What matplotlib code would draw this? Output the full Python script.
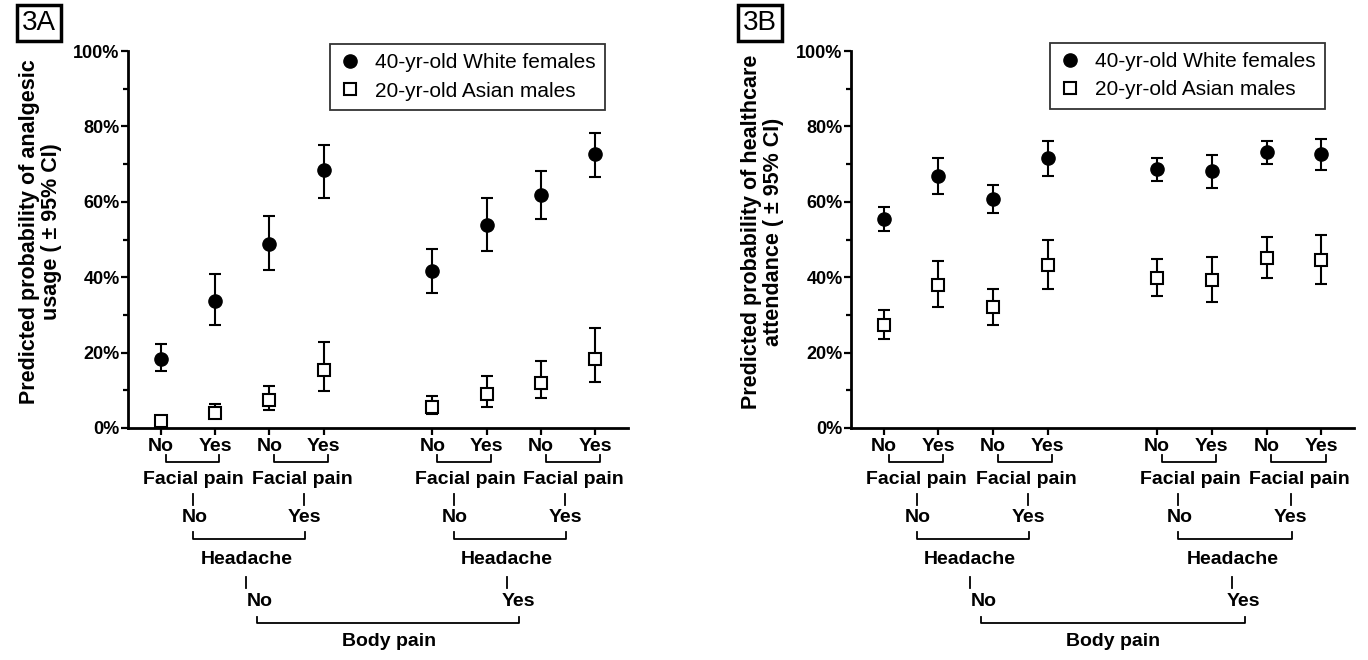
import matplotlib.pyplot as plt
import matplotlib as mpl
from matplotlib.lines import Line2D

mpl.rcParams['font.family'] = ['Liberation Sans', 'DejaVu Sans']

# ---------- data ----------
xpos = [0, 1, 2, 3, 5, 6, 7, 8]
tick_labels = ['No', 'Yes', 'No', 'Yes', 'No', 'Yes', 'No', 'Yes']
series_names = ['40-yr-old White females', '20-yr-old Asian males']

# 3A: analgesic usage (%)
a_white = [18.3, 33.7, 48.9, 68.4, 41.6, 53.9, 61.9, 72.8]
a_white_lo = [15.1, 27.3, 41.9, 60.9, 35.9, 46.9, 55.4, 66.7]
a_white_hi = [22.2, 40.8, 56.2, 75.1, 47.6, 61.0, 68.2, 78.2]
a_asian = [1.9, 4.1, 7.5, 15.3, 5.7, 8.9, 11.9, 18.3]
a_asian_lo = [1.2, 2.8, 4.8, 9.9, 3.6, 5.6, 7.9, 12.1]
a_asian_hi = [2.6, 6.4, 11.2, 22.8, 8.4, 13.7, 17.8, 26.6]

# 3B: healthcare attendance (%)
b_white = [55.4, 66.9, 60.7, 71.5, 68.6, 68.2, 73.1, 72.8]
b_white_lo = [52.2, 62.1, 57.0, 66.8, 65.6, 63.6, 70.0, 68.4]
b_white_hi = [58.7, 71.6, 64.5, 76.0, 71.7, 72.5, 76.2, 76.7]
b_asian = [27.4, 37.9, 32.0, 43.3, 39.8, 39.3, 45.2, 44.6]
b_asian_lo = [23.6, 32.2, 27.4, 36.9, 35.1, 33.5, 39.8, 38.3]
b_asian_hi = [31.4, 44.2, 36.8, 50.0, 44.8, 45.4, 50.7, 51.1]

W, H = 1368, 660
fig = plt.figure(figsize=(W / 100, H / 100), dpi=100)


def yf(p):
    # pixel row (from top of image) -> axes fraction
    return (428 - p) / 377


def err(v, lo, hi):
    return [[m - l for m, l in zip(v, lo)], [h - m for m, h in zip(v, hi)]]


def tree(ax):
    tr = ax.get_xaxis_transform()
    kw = dict(transform=tr, clip_on=False, color='black', lw=1.3)
    tk = dict(transform=tr, ha='center', va='center', fontsize=14, fontweight='bold')

    def bracket(x1, x2, ytop, ybot):
        ax.plot([x1, x1, x2, x2], [yf(ytop), yf(ybot), yf(ybot), yf(ytop)], **kw)

    # facial pain level
    for base in [0, 2, 5, 7]:
        bracket(base + 0.09, base + 1.08, 455, 462)
        ax.text(base + 0.6, yf(479), 'Facial pain', **tk)
    # headache level
    for lft, rgt in [(0.6, 2.64), (5.39, 7.44)]:
        ax.plot([lft, lft], [yf(494), yf(505)], **kw)
        ax.plot([rgt, rgt], [yf(494), yf(505)], **kw)
        ax.text(lft + 0.03, yf(518), 'No', **tk)
        ax.text(rgt, yf(518), 'Yes', **tk)
        bracket(lft, rgt + 0.02, 532, 538.5)
        mid = (lft + rgt) / 2 - 0.04
        ax.text(mid, yf(560), 'Headache', **tk)
        ax.plot([mid, mid], [yf(577), yf(588)], **kw)
    # body pain level
    ax.text(1.82, yf(601), 'No', **tk)
    ax.text(6.58, yf(601), 'Yes', **tk)
    bracket(1.78, 6.6, 616.5, 623)
    ax.text(4.2, yf(641), 'Body pain', **tk)


def panel(left_px, right_px, white, wlo, whi, asian, alo, ahi, ylabel, label_right_px,
          tag, tag_x, leg_anchor):
    ax = fig.add_axes([left_px / W, (H - 428) / H, (right_px - left_px) / W, 377 / H])
    ax.errorbar(xpos, white, yerr=err(white, wlo, whi), fmt='o', color='black',
                markersize=9.5, ecolor='black', elinewidth=1.5, capsize=4.5, capthick=1.5)
    ax.errorbar(xpos, asian, yerr=err(asian, alo, ahi), fmt='s', color='black',
                markerfacecolor='white', markeredgecolor='black', markeredgewidth=1.5,
                markersize=9, ecolor='black', elinewidth=1.5, capsize=4.5, capthick=1.5)
    ax.set_xlim(-0.6, 8.6)
    ax.set_ylim(0, 100)
    for s in ['top', 'right']:
        ax.spines[s].set_visible(False)
    for s in ['left', 'bottom']:
        ax.spines[s].set_linewidth(2)
    ax.set_yticks([0, 20, 40, 60, 80, 100])
    ax.set_yticklabels([f'{v}%' for v in [0, 20, 40, 60, 80, 100]],
                       fontsize=13, fontweight='bold')
    ax.set_yticks([10, 30, 50, 70, 90], minor=True)
    ax.tick_params(axis='y', which='major', length=5, width=1.6, pad=1)
    ax.tick_params(axis='y', which='minor', length=3.5, width=1.6)
    ax.set_xticks(xpos)
    ax.set_xticklabels(tick_labels, fontsize=14, fontweight='bold')
    ax.tick_params(axis='x', length=5, width=1.6, pad=2)
    ax.set_ylabel(ylabel, fontsize=15.5, fontweight='bold', linespacing=1.05)
    ax.yaxis.set_label_coords(-(left_px - label_right_px) / (right_px - left_px), 0.52)

    handles = [Line2D([], [], marker='o', ls='none', color='black', markersize=9.5),
               Line2D([], [], marker='s', ls='none', markerfacecolor='white',
                      markeredgecolor='black', markeredgewidth=1.5, markersize=9)]
    leg = ax.legend(handles, series_names, loc='upper right', bbox_to_anchor=leg_anchor,
                    borderaxespad=0, fontsize=15, frameon=True, fancybox=False,
                    handlelength=1.0, handletextpad=0.7, borderpad=0.45, labelspacing=0.45)
    leg.get_frame().set_edgecolor('black')
    leg.get_frame().set_linewidth(1.3)

    tree(ax)
    fig.text(tag_x / W, 1 - 23 / H, tag, fontsize=20, ha='center', va='center',
             bbox=dict(boxstyle='square,pad=0.18', fc='white', ec='black', lw=2.5))
    return ax


panel(128, 628, a_white, a_white_lo, a_white_hi, a_asian, a_asian_lo, a_asian_hi,
      'Predicted probability of analgesic\nusage ( \u00b1 95% CI)', 62, '3A', 39, (0.954, 1.019))
panel(851, 1354, b_white, b_white_lo, b_white_hi, b_asian, b_asian_lo, b_asian_hi,
      'Predicted probability of healthcare\nattendance ( \u00b1 95% CI)', 784, '3B', 760,
      (0.942, 1.022))

fig.savefig('out.png', dpi=100)
